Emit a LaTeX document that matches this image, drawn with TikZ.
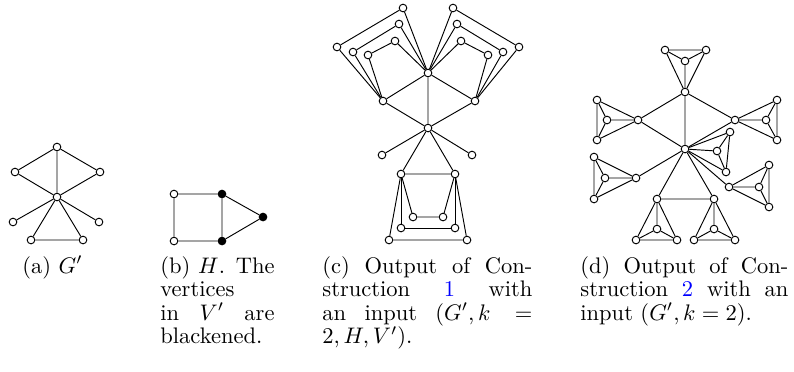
\documentclass[tikz,border=0pt]{standalone}
\usepackage{xcolor}
\begin{document}
\begin{tikzpicture}[x=0.4444pt,y=-0.4444pt,
  v/.style={circle,draw,fill=white,inner sep=0pt,minimum size=3.4pt,line width=0.42pt},
  bv/.style={v,fill=black},
  ed/.style={line width=0.42pt},
  captext/.style={anchor=base west,inner sep=0pt,font=\fontsize{10}{10.44}\selectfont}]
\useasboundingbox (0,0) rectangle (794,371);
% ---------- (a) ----------
\node[v] (a1) at (57,147) {};
\node[v] (a2) at (15,172) {};
\node[v] (a3) at (100,172) {};
\node[v] (a4) at (57,197) {};
\node[v] (a5) at (13,222) {};
\node[v] (a6) at (99,222) {};
\node[v] (a7) at (31,240) {};
\node[v] (a8) at (83,240) {};
\draw[ed] (a1)--(a2) (a1)--(a3) (a1)--(a4) (a2)--(a4) (a3)--(a4)
  (a4)--(a5) (a4)--(a6) (a4)--(a7) (a4)--(a8) (a7)--(a8);
% ---------- (b) ----------
\node[v] (b1) at (174,194) {};
\node[bv] (b2) at (222,194) {};
\node[v] (b3) at (174,241) {};
\node[bv] (b4) at (222,241) {};
\node[bv] (b5) at (263,217) {};
\draw[ed] (b1)--(b2) (b1)--(b3) (b3)--(b4) (b2)--(b4) (b2)--(b5) (b4)--(b5);
% ---------- (c) ----------
\node[v] (c0) at (428,73) {};
\node[v] (cL) at (383,101) {};
\node[v] (cR) at (475,101) {};
\node[v] (cM) at (428,128) {};
\node[v] (l1a) at (403,8) {};
\node[v] (l1b) at (337,47) {};
\node[v] (l2a) at (399,24) {};
\node[v] (l2b) at (353,52) {};
\node[v] (l3a) at (395,41) {};
\node[v] (l3b) at (368,55) {};
\node[v] (r1a) at (453,8) {};
\node[v] (r1b) at (519,47) {};
\node[v] (r2a) at (457,24) {};
\node[v] (r2b) at (503,52) {};
\node[v] (r3a) at (461,41) {};
\node[v] (r3b) at (488,55) {};
\node[v] (cl) at (382,155) {};
\node[v] (cr) at (472,155) {};
\node[v] (cP) at (401,174) {};
\node[v] (cQ) at (455,174) {};
\node[v] (p1) at (413,217) {};
\node[v] (q1) at (443,217) {};
\node[v] (p2) at (401,228) {};
\node[v] (q2) at (455,228) {};
\node[v] (p3) at (389,240) {};
\node[v] (q3) at (467,240) {};
\foreach \i in {1,2,3}{
  \draw[ed] (c0)--(l\i a)--(l\i b)--(cL);
  \draw[ed] (c0)--(r\i a)--(r\i b)--(cR);
  \draw[ed] (cP)--(p\i)--(q\i)--(cQ);
}
\draw[ed] (c0)--(cL) (c0)--(cR) (c0)--(cM) (cL)--(cM) (cR)--(cM)
  (cM)--(cl) (cM)--(cr) (cM)--(cP) (cM)--(cQ) (cP)--(cQ);
% ---------- (d) ----------
\node[v] (dC) at (685,149) {};
\node[v] (dT) at (685,92) {};
\node[v] (dT1) at (665,50) {};
\node[v] (dT2) at (706,50) {};
\node[v] (dT3) at (685,61) {};
\node[v] (dL) at (638,120) {};
\node[v] (dL1) at (597,100) {};
\node[v] (dL2) at (607,120) {};
\node[v] (dL3) at (597,140) {};
\node[v] (dR) at (735,120) {};
\node[v] (dR1) at (777,100) {};
\node[v] (dR2) at (766,120) {};
\node[v] (dR3) at (777,140) {};
\node[v] (dA) at (730,132) {};
\node[v] (dB) at (717,151) {};
\node[v] (dD) at (726,172) {};
\node[v] (dM) at (636,178) {};
\node[v] (dM1) at (594,157) {};
\node[v] (dM2) at (605,178) {};
\node[v] (dM3) at (594,199) {};
\node[v] (dN) at (729,187) {};
\node[v] (dN1) at (769,165) {};
\node[v] (dN2) at (759,187) {};
\node[v] (dN3) at (769,207) {};
\node[v] (dP) at (657,199) {};
\node[v] (dP1) at (636,240) {};
\node[v] (dP2) at (657,229) {};
\node[v] (dP3) at (677,240) {};
\node[v] (dQ) at (714,199) {};
\node[v] (dQ1) at (694,240) {};
\node[v] (dQ2) at (714,229) {};
\node[v] (dQ3) at (735,240) {};
\foreach \h in {T,L,R,M,N,P,Q}{
  \draw[ed] (d\h)--(d\h1) (d\h)--(d\h2) (d\h)--(d\h3)
    (d\h1)--(d\h2)--(d\h3)--(d\h1);
}
\draw[ed] (dC)--(dA) (dC)--(dB) (dC)--(dD) (dA)--(dB)--(dD)--(dA);
\draw[ed] (dC)--(dT) (dC)--(dL) (dC)--(dR) (dT)--(dL) (dT)--(dR)
  (dC)--(dM) (dC)--(dN) (dC)--(dP) (dC)--(dQ) (dP)--(dQ);
% ---------- captions ----------
\node[captext] (capa) at (22,273) {(a) $G'$};
\node[captext] (capb) at (160,273) {\parbox[t]{50.7pt}{\makebox[50.7pt][s]{(b) $H$. The}\\
  vertices\\
  \makebox[50.7pt][s]{in $V'$ are}\\
  blackened.}};
\node[captext] (capc) at (322,273) {\parbox[t]{93.3pt}{\makebox[93.3pt][s]{(c) Output of Con-}\\
  \makebox[93.3pt][s]{struction \textcolor{blue}{1} with}\\
  \makebox[93.3pt][s]{an input $(G',k=$}\\
  $2,H,V')$.}};
\node[captext] (capd) at (580,273) {\parbox[t]{92.4pt}{\makebox[92.4pt][s]{(d) Output of Con-}\\
  \makebox[92.4pt][s]{struction \textcolor{blue}{2} with an}\\
  input $(G',k=2)$.}};
\end{tikzpicture}
\end{document}
